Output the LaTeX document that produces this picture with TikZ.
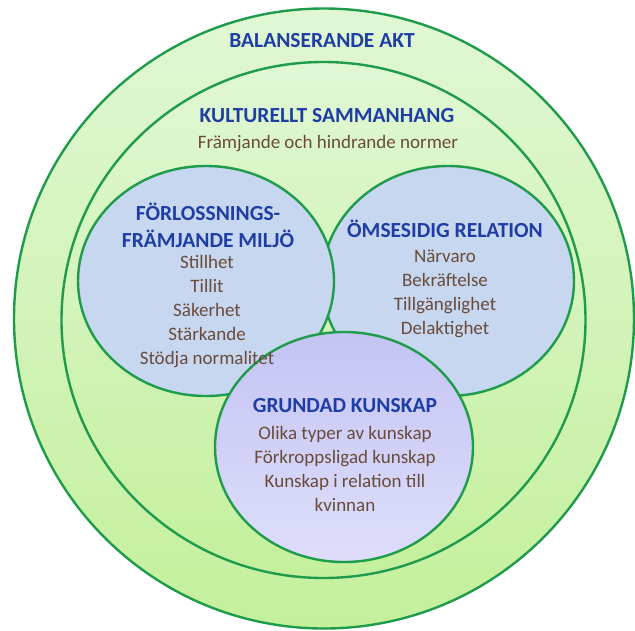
\documentclass[tikz,border=0pt]{standalone}
\usepackage{fontspec}
\setmainfont{Carlito}
\definecolor{ringline}{RGB}{30,155,75}
\definecolor{greentop}{RGB}{224,247,212}
\definecolor{greenbot}{RGB}{196,240,156}
\definecolor{bluefill}{RGB}{199,215,239}
\definecolor{lavtop}{RGB}{196,196,244}
\definecolor{lavbot}{RGB}{222,222,250}
\definecolor{headblue}{RGB}{31,62,165}
\definecolor{itembrown}{RGB}{105,75,60}
\begin{document}
\begin{tikzpicture}[x=1pt,y=-1pt,
  ring/.style={draw=ringline,line width=2.4pt},
  heading/.style={font=\fontsize{21.5}{26.5}\selectfont\bfseries,text=headblue,align=center,inner sep=0pt,anchor=base},
  items/.style={font=\fontsize{19}{24}\selectfont,text=itembrown,align=center,inner sep=0pt,anchor=base}]
\useasboundingbox (0,0) rectangle (635,630);
\fill[white] (0,0) rectangle (635,630);
% outer and middle rings
\path[ring,top color=greentop,bottom color=greenbot] (324,318.5) circle [radius=310pt];
\path[ring,top color=greentop,bottom color=greenbot] (323.5,320) ellipse [x radius=262pt,y radius=258pt];
% inner circles
\path[ring,fill=bluefill] (448,281) ellipse [x radius=126pt,y radius=115pt];
\path[ring,fill=bluefill] (206,281) ellipse [x radius=128pt,y radius=115pt];
\path[ring,top color=lavtop,bottom color=lavbot] (344,447) ellipse [x radius=129pt,y radius=115pt];
% texts (multi-line nodes: base = baseline of last line)
\node[heading] (bal) at (322,47) {BALANSERANDE AKT};
\node[heading] (kul) at (327,122) {KULTURELLT SAMMANHANG};
\node[items] (kulitems) at (328,148.5) {Främjande och hindrande normer};
\node[heading] (forl) at (208,247) {FÖRLOSSNINGS-\\FRÄMJANDE MILJÖ};
\node[items] (forlitems) at (207,364.5) {Stillhet\\Tillit\\Säkerhet\\Stärkande\\Stödja normalitet};
\node[heading] (oms) at (445,237) {ÖMSESIDIG RELATION};
\node[items] (omsitems) at (445,334.5) {Närvaro\\Bekräftelse\\Tillgänglighet\\Delaktighet};
\node[heading] (grund) at (345,412) {GRUNDAD KUNSKAP};
\node[items] (grunditems) at (345,511.5) {Olika typer av kunskap\\Förkroppsligad kunskap\\Kunskap i relation till\\kvinnan};
\end{tikzpicture}
\end{document}
